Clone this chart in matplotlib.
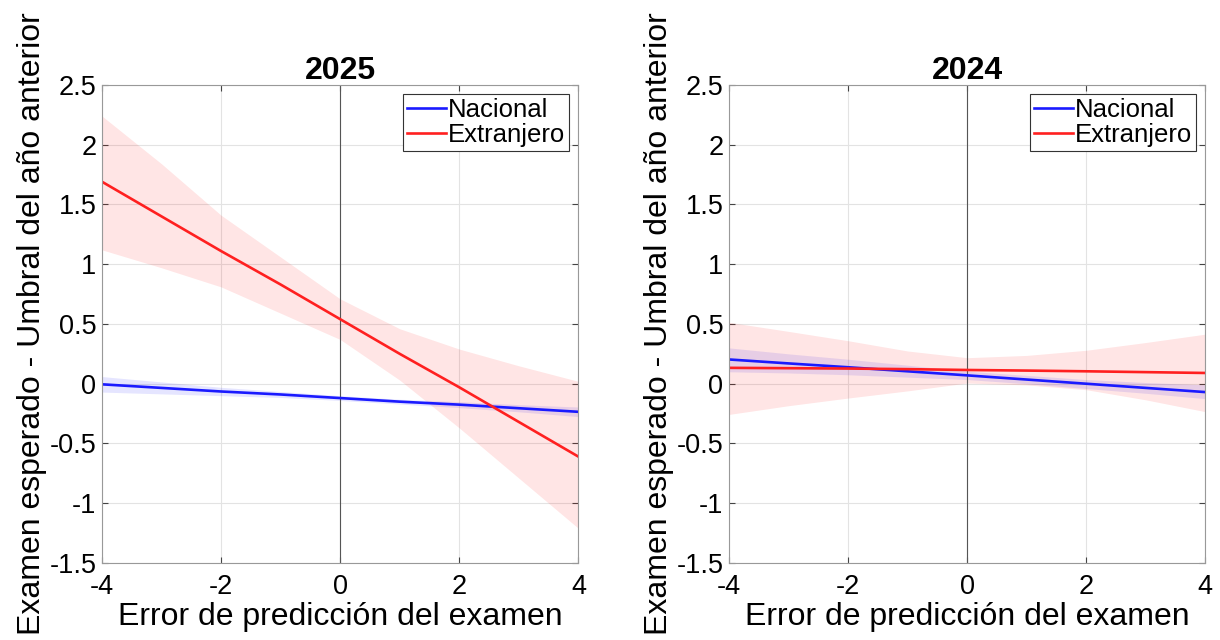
import numpy as np
import matplotlib.pyplot as plt

plt.rcParams['font.family'] = ['Liberation Sans', 'DejaVu Sans']
plt.rcParams['axes.unicode_minus'] = False

x = [-4, -3, -2, -1, 0, 1, 2, 3, 4]

# 2025
nac25 = [-0.005, -0.035, -0.065, -0.09, -0.12, -0.15, -0.175, -0.205, -0.235]
nac25_hi = [0.06, 0.015, -0.03, -0.065, -0.10, -0.13, -0.15, -0.175, -0.195]
nac25_lo = [-0.07, -0.085, -0.10, -0.115, -0.14, -0.17, -0.20, -0.235, -0.275]
ext25 = [1.69, 1.40, 1.11, 0.83, 0.54, 0.25, -0.03, -0.32, -0.61]
ext25_hi = [2.24, 1.84, 1.41, 1.06, 0.71, 0.46, 0.29, 0.15, 0.02]
ext25_lo = [1.12, 0.97, 0.81, 0.59, 0.37, 0.03, -0.37, -0.79, -1.21]

# 2024
nac24 = [0.203, 0.17, 0.138, 0.104, 0.07, 0.035, 0.0, -0.035, -0.07]
nac24_hi = [0.30, 0.25, 0.205, 0.155, 0.105, 0.07, 0.035, 0.01, -0.01]
nac24_lo = [0.10, 0.09, 0.075, 0.055, 0.035, 0.0, -0.04, -0.08, -0.125]
ext24 = [0.133, 0.13, 0.127, 0.122, 0.115, 0.11, 0.104, 0.097, 0.09]
ext24_hi = [0.514, 0.438, 0.36, 0.274, 0.218, 0.237, 0.28, 0.345, 0.415]
ext24_lo = [-0.257, -0.184, -0.12, -0.06, 0.006, -0.01, -0.05, -0.135, -0.234]

paneles = [
    ('2025', nac25, nac25_lo, nac25_hi, ext25, ext25_lo, ext25_hi),
    ('2024', nac24, nac24_lo, nac24_hi, ext24, ext24_lo, ext24_hi),
]

fig = plt.figure(figsize=(12.2, 6.4), dpi=100)
lefts = [0.0836, 0.5975]

for left, (titulo, n, nlo, nhi, e, elo, ehi) in zip(lefts, paneles):
    ax = fig.add_axes([left, 0.1203, 0.3905, 0.747])
    ax.fill_between(x, nlo, nhi, color='#0000ff', alpha=0.1, linewidth=0)
    ax.plot(x, n, color='#1a1aff', lw=1.9, label='Nacional')
    ax.fill_between(x, elo, ehi, color='#ff0000', alpha=0.1, linewidth=0)
    ax.plot(x, e, color='#ff2020', lw=1.9, label='Extranjero')
    ax.axvline(0, color='#555555', lw=0.8, zorder=1)

    ax.set_xlim(-4, 4)
    ax.set_ylim(-1.5, 2.5)
    ax.set_xticks([-4, -2, 0, 2, 4])
    ax.set_yticks(np.arange(-1.5, 2.51, 0.5))
    ax.set_yticklabels(['-1.5', '-1', '-0.5', '0', '0.5', '1', '1.5', '2', '2.5'])
    ax.grid(True, color='#e3e3e3', lw=0.8)
    ax.set_axisbelow(True)
    ax.tick_params(direction='in', top=True, right=True, labelsize=19.5,
                   length=4, color='#444444')
    ax.tick_params(axis='x', pad=8)
    ax.tick_params(axis='y', pad=4)
    for s in ax.spines.values():
        s.set_color('#999999')
        s.set_linewidth(0.8)

    ax.set_title(titulo, fontsize=23, fontweight='bold', pad=4)
    ax.set_xlabel('Error de predicción del examen', fontsize=23, labelpad=1)
    ax.set_ylabel('Examen esperado - Umbral del año anterior', fontsize=23, labelpad=2)

    leg = ax.legend(loc='upper right', fontsize=18.5, handlelength=1.5,
                    handletextpad=0.1, borderpad=0.15, labelspacing=0.05,
                    borderaxespad=0.35, fancybox=False, framealpha=1)
    leg.get_frame().set_edgecolor('#333333')
    leg.get_frame().set_linewidth(0.8)

plt.savefig('out.png', dpi=100)
